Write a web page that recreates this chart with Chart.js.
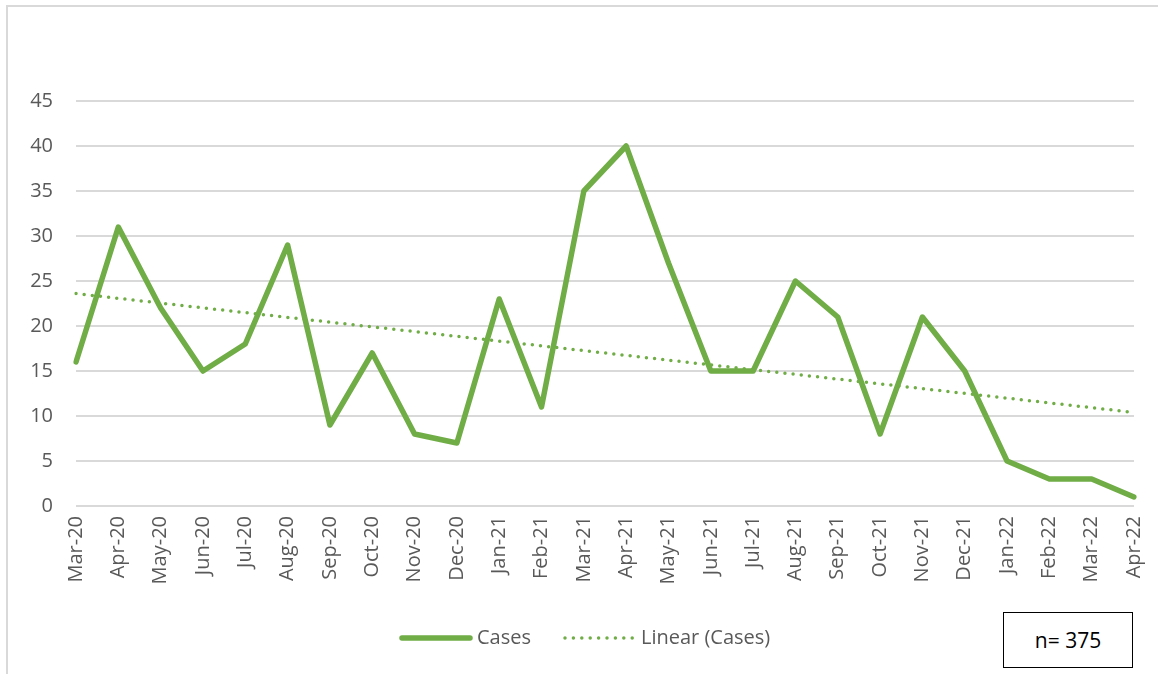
<!DOCTYPE html>
<html>
<head>
<meta charset="utf-8">
<script src="https://cdn.jsdelivr.net/npm/chart.js@4/dist/chart.umd.min.js"></script>
<style>
  html, body { margin: 0; padding: 0; background: #fff; }
  #wrap { position: relative; width: 1158px; height: 674px; overflow: hidden; }
  #frame { position: absolute; left: 6px; top: 5px; width: 1300px; height: 800px;
           border-left: 2px solid #d9d9d9; border-top: 2px solid #d9d9d9; box-sizing: border-box; }
  #chart { position: absolute; left: 0; top: 0; }
  #nbox { position: absolute; left: 1003px; top: 612px; width: 130px; height: 56px;
          border: 1px solid #000; box-sizing: border-box; background: #fff;
          font-family: "Open Sans", sans-serif; font-size: 21px; color: #000;
          display: flex; align-items: center; justify-content: center; }
</style>
</head>
<body>
<div id="wrap">
  <div id="frame"></div>
  <canvas id="chart" width="1158" height="674"></canvas>
  <div id="nbox">n= 375</div>
</div>
<script>
const categories = ["Mar-20","Apr-20","May-20","Jun-20","Jul-20","Aug-20","Sep-20","Oct-20","Nov-20","Dec-20",
  "Jan-21","Feb-21","Mar-21","Apr-21","May-21","Jun-21","Jul-21","Aug-21","Sep-21","Oct-21","Nov-21","Dec-21",
  "Jan-22","Feb-22","Mar-22","Apr-22"];
const cases = [16,31,22,15,18,29,9,17,8,7,23,11,35,40,27,15,15,25,21,8,21,15,5,3,3,1];
// Linear trend endpoints (first and last month)
const trendStart = 23.6;
const trendEnd = 10.4;
const yTicks = [0,5,10,15,20,25,30,35,40,45];

const trend = categories.map((c, i) => i === 0 ? trendStart : (i === categories.length - 1 ? trendEnd : null));

const GREEN = "#70ad47";
const TEXT = "#595959";
const FONT = "'Open Sans', sans-serif";

const legendPlugin = {
  id: "customLegend",
  afterDraw(chart) {
    const ctx = chart.ctx;
    ctx.save();
    const y = 638;
    ctx.strokeStyle = GREEN;
    ctx.lineWidth = 5.5;
    ctx.lineCap = "round";
    ctx.beginPath(); ctx.moveTo(402, y); ctx.lineTo(470, y); ctx.stroke();
    ctx.fillStyle = TEXT;
    ctx.font = "20px " + FONT;
    ctx.textBaseline = "middle";
    ctx.fillText("Cases", 477, y);
    ctx.lineWidth = 3.5;
    ctx.setLineDash([0, 8.4]);
    ctx.beginPath(); ctx.moveTo(565, y); ctx.lineTo(633, y); ctx.stroke();
    ctx.setLineDash([]);
    ctx.fillText("Linear (Cases)", 641, y);
    ctx.restore();
  }
};

new Chart(document.getElementById("chart"), {
  type: "line",
  data: {
    labels: categories,
    datasets: [
      {
        label: "Cases",
        data: cases,
        borderColor: GREEN,
        borderWidth: 5.5,
        borderJoinStyle: "round",
        borderCapStyle: "round",
        pointRadius: 0,
        tension: 0,
        fill: false
      },
      {
        label: "Linear (Cases)",
        data: trend,
        spanGaps: true,
        borderColor: GREEN,
        borderWidth: 3.5,
        borderDash: [0, 8.2],
        borderCapStyle: "round",
        pointRadius: 0,
        fill: false
      }
    ]
  },
  options: {
    responsive: false,
    animation: false,
    events: [],
    layout: { padding: { top: 101, right: 24, bottom: 0, left: 0 } },
    plugins: { legend: { display: false }, tooltip: { enabled: false } },
    scales: {
      x: {
        offset: false,
        grid: { display: false, drawTicks: false },
        border: { display: false },
        ticks: {
          autoSkip: false,
          maxRotation: 90, minRotation: 90,
          padding: 10,
          color: TEXT,
          font: { family: FONT, size: 20 }
        },
        afterFit(scale) { scale.height = 168; scale.paddingLeft = 0; scale.paddingRight = 0; }
      },
      y: {
        min: 0, max: 45,
        afterBuildTicks(scale) { scale.ticks = yTicks.map(v => ({ value: v })); },
        grid: { color: "#d9d9d9", lineWidth: 2, drawTicks: false },
        border: { display: false },
        ticks: {
          padding: 23,
          color: TEXT,
          font: { family: FONT, size: 20 }
        },
        afterFit(scale) { scale.width = 76; scale.paddingTop = 0; scale.paddingBottom = 0; }
      }
    }
  },
  plugins: [legendPlugin]
});
</script>
</body>
</html>
